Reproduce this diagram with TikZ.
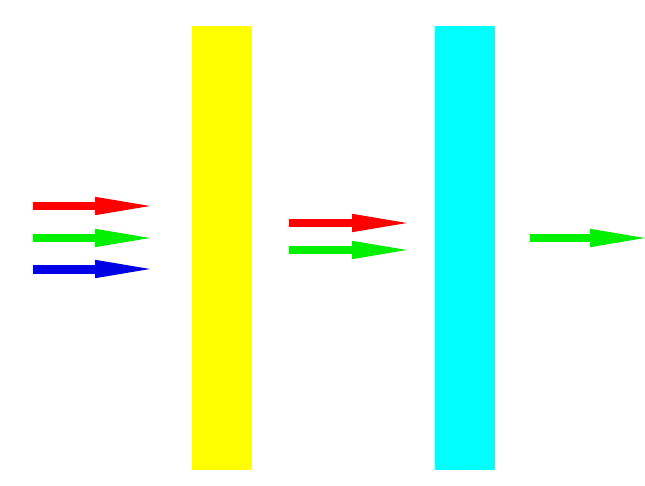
\documentclass[tikz,border=0pt]{standalone}
\usepackage{xcolor}
\usepackage{tikz}
\usetikzlibrary{arrows.meta}
\definecolor{beamRed}{RGB}{255,0,0}
\definecolor{beamGreen}{RGB}{0,240,0}
\definecolor{beamBlue}{RGB}{0,0,230}
\definecolor{filterYellow}{RGB}{255,255,0}
\definecolor{filterCyan}{RGB}{0,255,255}
\tikzset{
  beam/.style={line width=0.18cm, -{Triangle[line width=0pt, length=1.1cm, width=0.37cm]}},
  filterbar/.style={draw=none, minimum width=1.2cm, minimum height=8.88cm, inner sep=0pt}
}

\begin{document}
\begin{tikzpicture}[x=0.02cm, y=-0.02cm]
\useasboundingbox (0,0) rectangle (645,486);
%
\node[filterbar, fill=filterYellow] (yellowbar) at (222,248) {};
\node[filterbar, fill=filterCyan] (cyanbar) at (465,248) {};

% incoming white light
\coordinate (inR) at (33,206);   \coordinate (inRtip) at (150,206);
\coordinate (inG) at (33,238);   \coordinate (inGtip) at (150,238);
\coordinate (inB) at (33,269);   \coordinate (inBtip) at (150,269);
\draw[beam, beamRed] (inR) -- (inRtip);
\draw[beam, beamGreen] (inG) -- (inGtip);
\draw[beam, beamBlue] (inB) -- (inBtip);

% after the yellow filter
\coordinate (midR) at (289,223); \coordinate (midRtip) at (407,223);
\coordinate (midG) at (289,250); \coordinate (midGtip) at (407,250);
\draw[beam, beamRed] (midR) -- (midRtip);
\draw[beam, beamGreen] (midG) -- (midGtip);

% after the cyan filter
\coordinate (outG) at (530,238); \coordinate (outGtip) at (645,238);
\draw[beam, beamGreen] (outG) -- (outGtip);
\end{tikzpicture}
\end{document}
